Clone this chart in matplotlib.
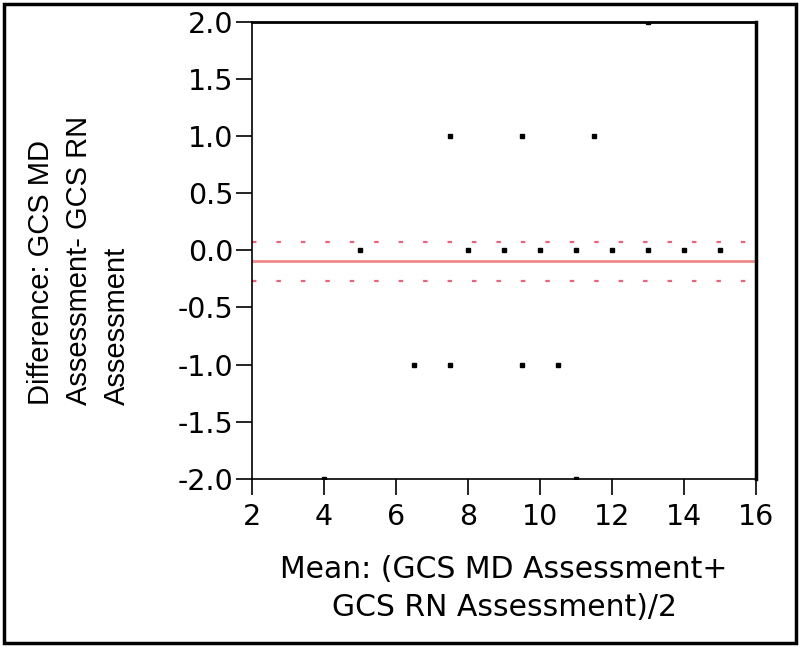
import matplotlib.pyplot as plt
import matplotlib.patches as patches

# 평균값 (x) 과 차이값 (y)
mean_vals = [5, 8, 9, 10, 11, 12, 13, 14, 15,
             7.5, 9.5, 11.5,
             6.5, 7.5, 9.5, 10.5,
             13, 4, 11]
diff_vals = [0, 0, 0, 0, 0, 0, 0, 0, 0,
             1, 1, 1,
             -1, -1, -1, -1,
             2, -2, -2]

bias = -0.095
ci_upper = 0.07
ci_lower = -0.265

x_ticks = [2, 4, 6, 8, 10, 12, 14, 16]
y_ticks = [-2.0, -1.5, -1.0, -0.5, 0.0, 0.5, 1.0, 1.5, 2.0]

plt.rcParams['font.family'] = ['DejaVu Sans']

fig = plt.figure(figsize=(8, 6.47), dpi=100)
ax = fig.add_axes([0.315, 0.26, 0.63, 0.706])

ax.plot(mean_vals, diff_vals, linestyle='none', marker='s', markersize=3,
        color='black', clip_on=True, zorder=3)
ax.axhline(bias, color='#f08a8a', linewidth=2)
ax.axhline(ci_upper, color='#f0607a', linewidth=1.6, linestyle=(0, (2, 9)))
ax.axhline(ci_lower, color='#f0607a', linewidth=1.6, linestyle=(0, (2, 9)))

ax.set_xlim(2, 16)
ax.set_ylim(-2, 2)
ax.set_xticks(x_ticks)
ax.set_xticklabels([str(t) for t in x_ticks])
ax.set_yticks(y_ticks)
ax.set_yticklabels([f'{t:.1f}' for t in y_ticks])
ax.tick_params(axis='both', direction='out', length=11.5, width=1.2,
               labelsize=20.5, colors='black')
ax.tick_params(axis='y', pad=2)
ax.tick_params(axis='x', pad=6)

ax.spines['left'].set_linewidth(1.2)
ax.spines['bottom'].set_linewidth(1.2)
ax.spines['right'].set_linewidth(2.5)
ax.spines['top'].set_linewidth(2)

# y축 라벨 (세로, 왼쪽 정렬)
fig.text(79 / 800, (647 - 405) / 647,
         'Difference: GCS MD\nAssessment- GCS RN\nAssessment',
         rotation=90, ha='center', va='bottom', multialignment='left',
         fontsize=21, linespacing=1.45, family='Liberation Sans')
fig.text(504 / 800, 1 - 569 / 647, 'Mean: (GCS MD Assessment+',
         ha='center', va='center', fontsize=21.5)
fig.text(504 / 800, 1 - 607 / 647, 'GCS RN Assessment)/2',
         ha='center', va='center', fontsize=21.5)

# 바깥 테두리
fig.patches.append(patches.Rectangle((0.005, 0.006), 0.99, 0.988,
                                     transform=fig.transFigure, fill=False,
                                     edgecolor='black', linewidth=2.5))

fig.savefig('out.png', dpi=100, facecolor='white')
